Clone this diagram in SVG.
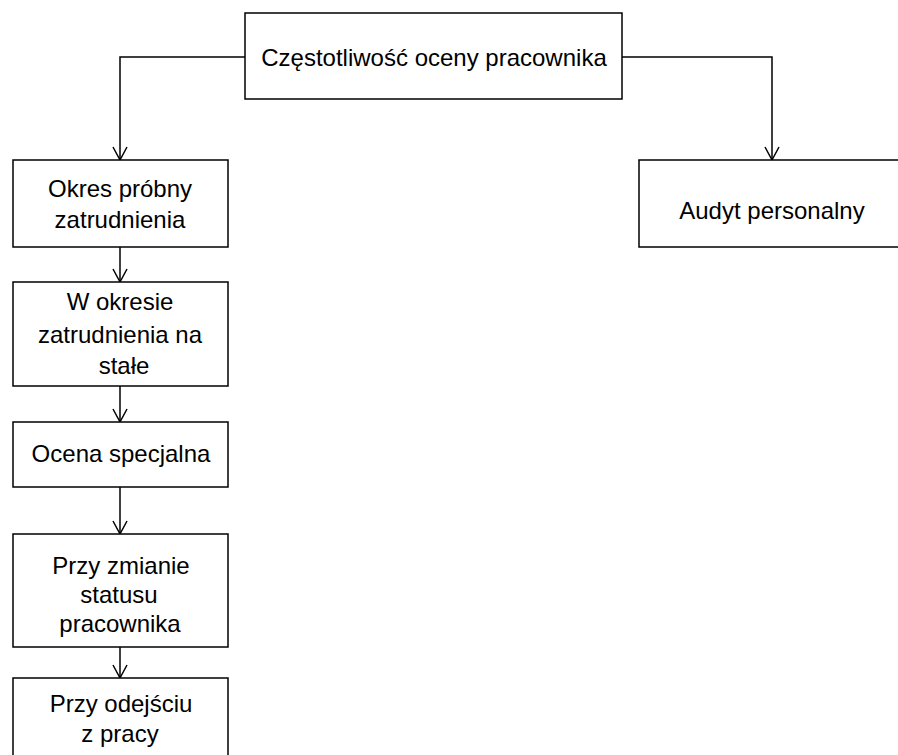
<svg xmlns="http://www.w3.org/2000/svg" width="898" height="755" viewBox="0 0 898 755">
<style>
.box{fill:#fff;stroke:#000;stroke-width:1.5}
.t{font-family:"Liberation Sans",Arial,sans-serif;font-size:24px;fill:#000;text-anchor:middle}
.c{fill:none;stroke:#000;stroke-width:1.5}
</style>
<defs>
<marker id="arr" markerUnits="userSpaceOnUse" viewBox="-15 -9 17 18" refX="0" refY="0" markerWidth="17" markerHeight="18" orient="auto">
<path d="M-13,-7 L0,0 L-13,7" fill="none" stroke="#000" stroke-width="1.5"/>
</marker>
</defs>
<rect width="898" height="755" fill="#fff"/>
<g id="connectors">
<path class="c" d="M245,57 H120 V160" marker-end="url(#arr)"/>
<path class="c" d="M622,57 H772 V160" marker-end="url(#arr)"/>
<path class="c" d="M120,247 V282" marker-end="url(#arr)"/>
<path class="c" d="M120,386 V422" marker-end="url(#arr)"/>
<path class="c" d="M120,487 V534" marker-end="url(#arr)"/>
<path class="c" d="M120,647 V678" marker-end="url(#arr)"/>
</g>
<g id="n-top">
<rect class="box" x="245" y="13" width="377" height="86"/>
<text class="t" x="434" y="66">Częstotliwość oceny pracownika</text>
</g>
<g id="n-okres">
<rect class="box" x="13" y="160" width="215" height="87"/>
<text class="t" x="120" y="197">Okres próbny</text>
<text class="t" x="120" y="228">zatrudnienia</text>
</g>
<g id="n-audyt">
<rect class="box" x="639" y="160" width="270" height="87"/>
<text class="t" x="772" y="219">Audyt personalny</text>
</g>
<g id="n-stale">
<rect class="box" x="13" y="282" width="215" height="104"/>
<text class="t" x="120" y="310">W okresie</text>
<text class="t" x="120" y="343">zatrudnienia na</text>
<text class="t" x="124" y="374">stałe</text>
</g>
<g id="n-specjalna">
<rect class="box" x="13" y="422" width="215" height="65"/>
<text class="t" x="121" y="462">Ocena specjalna</text>
</g>
<g id="n-status">
<rect class="box" x="13" y="534" width="215" height="113"/>
<text class="t" x="121" y="574">Przy zmianie</text>
<text class="t" x="119" y="603">statusu</text>
<text class="t" x="120" y="632">pracownika</text>
</g>
<g id="n-odejscie">
<rect class="box" x="13" y="678" width="215" height="100"/>
<text class="t" x="121" y="712">Przy odejściu</text>
<text class="t" x="120" y="742">z pracy</text>
</g>
</svg>
